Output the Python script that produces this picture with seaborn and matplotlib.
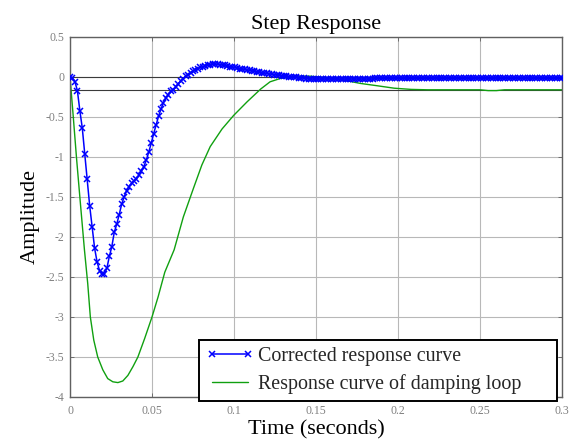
import numpy as np
import pandas as pd
import matplotlib
matplotlib.use("Agg")
import matplotlib.pyplot as plt
import seaborn as sns
from matplotlib.ticker import FixedLocator, FixedFormatter

# ---------------- data ----------------
title = "Step Response"
x_label = "Time (seconds)"
y_label = "Amplitude"
series_names = ["Corrected response curve", "Response curve of damping loop"]

x_ticks = [0, 0.05, 0.1, 0.15, 0.2, 0.25, 0.3]
x_tick_labels = ["0", "0.05", "0.1", "0.15", "0.2", "0.25", "0.3"]
y_ticks = [-4, -3.5, -3, -2.5, -2, -1.5, -1, -0.5, 0, 0.5]
y_tick_labels = ["-4", "-3.5", "-3", "-2.5", "-2", "-1.5", "-1", "-0.5", "0", "0.5"]

# steady-state reference lines
steady_values = [0.0, -0.16]

# corrected response: sampled every 0.0015 s
blue_dt = 0.0015
blue_y = [
    0.00, -0.01, -0.06, -0.17, -0.42, -0.64, -0.96, -1.28, -1.61, -1.87,
    -2.14, -2.31, -2.42, -2.46, -2.46, -2.39, -2.24, -2.12, -1.94, -1.84,
    -1.72, -1.59, -1.50, -1.42, -1.37, -1.33, -1.30, -1.27, -1.23, -1.18,
    -1.12, -1.04, -0.94, -0.83, -0.71, -0.60, -0.49, -0.40, -0.32, -0.26,
    -0.22, -0.18, -0.16, -0.12, -0.085, -0.05, -0.02, 0.01, 0.03, 0.055,
    0.075, 0.09, 0.105, 0.12, 0.13, 0.14, 0.15, 0.155, 0.16, 0.16,
    0.16, 0.155, 0.15, 0.145, 0.14, 0.13, 0.125, 0.12, 0.11, 0.105,
    0.10, 0.095, 0.09, 0.085, 0.075, 0.07, 0.065, 0.06, 0.055, 0.05,
    0.045, 0.04, 0.035, 0.03, 0.025, 0.02, 0.015, 0.01, 0.01, 0.005,
    0.00, 0.00, -0.005, -0.01, -0.01, -0.015, -0.02, -0.02, -0.025, -0.025,
    -0.025, -0.025, -0.025, -0.025, -0.025, -0.025, -0.025, -0.025, -0.025, -0.025,
    -0.025, -0.025, -0.025, -0.025, -0.025, -0.025, -0.025, -0.025, -0.025, -0.025,
    -0.025, -0.025, -0.025, -0.025, -0.015, -0.015, -0.015, -0.015, -0.015, -0.015,
    -0.015, -0.015, -0.015, -0.015, -0.015, -0.015, -0.015, -0.015, -0.015, -0.015,
    -0.015, -0.015, -0.015, -0.015, -0.015, -0.015, -0.015, -0.015, -0.015, -0.015,
    -0.015, -0.015, -0.015, -0.015, -0.015, -0.015, -0.015, -0.015, -0.015, -0.015,
    -0.015, -0.015, -0.015, -0.015, -0.015, -0.015, -0.015, -0.015, -0.015, -0.015,
    -0.015, -0.015, -0.015, -0.015, -0.015, -0.015, -0.015, -0.015, -0.015, -0.015,
    -0.015, -0.015, -0.015, -0.015, -0.015, -0.015, -0.015, -0.015, -0.015, -0.015,
    -0.015, -0.015, -0.015, -0.015, -0.015, -0.015, -0.015, -0.015, -0.015, -0.015,
    -0.015,
]

# damping-loop response
green_t = [0.0, 0.002, 0.004, 0.006, 0.0088, 0.0108, 0.0124, 0.0145, 0.0169, 0.020,
           0.023, 0.0261, 0.0292, 0.0322, 0.0353, 0.0384, 0.0414, 0.0455, 0.050, 0.0537,
           0.0578, 0.0635, 0.0691, 0.0753, 0.0804, 0.0855, 0.0927, 0.0998, 0.108, 0.1163,
           0.122, 0.128, 0.1364, 0.1466, 0.157, 0.167, 0.177, 0.1875, 0.1977, 0.208,
           0.218, 0.25, 0.255, 0.26, 0.265, 0.3]
green_y = [0.0, -0.5, -1.02, -1.5, -2.16, -2.58, -3.0, -3.29, -3.5, -3.66,
           -3.77, -3.81, -3.82, -3.80, -3.73, -3.62, -3.50, -3.27, -3.00, -2.75,
           -2.44, -2.16, -1.75, -1.39, -1.10, -0.87, -0.65, -0.48, -0.31, -0.15,
           -0.06, -0.02, 0.01, 0.01, -0.01, -0.04, -0.08, -0.11, -0.14, -0.155,
           -0.16, -0.16, -0.17, -0.17, -0.16, -0.16]

blue_t = np.arange(len(blue_y)) * blue_dt
df_blue = pd.DataFrame({"t": blue_t, "y": blue_y})
df_green = pd.DataFrame({"t": green_t, "y": green_y})

# ---------------- figure ----------------
sns.set_theme(style="whitegrid")
plt.rcParams["font.family"] = ["Liberation Serif", "DejaVu Serif"]

fig = plt.figure(figsize=(5.71, 4.41), dpi=100)
ax = fig.add_axes([0.1226, 0.0998, 0.8616, 0.8163])
ax.set_facecolor("white")

for v in steady_values:
    ax.axhline(v, color="#3a3a3a", linewidth=0.8, zorder=1.5)

sns.lineplot(data=df_blue, x="t", y="y", ax=ax, color="#0000ff",
             marker="x", markersize=4.2, markeredgecolor="#0000ff",
             markeredgewidth=1.1, linewidth=1.1, label=series_names[0],
             sort=False, zorder=3)
sns.lineplot(data=df_green, x="t", y="y", ax=ax, color="#10a010",
             linewidth=1.0, label=series_names[1], sort=False, zorder=2.5)

ax.set_xlim(0, 0.3)
ax.set_ylim(-4, 0.5)
ax.xaxis.set_major_locator(FixedLocator(x_ticks))
ax.xaxis.set_major_formatter(FixedFormatter(x_tick_labels))
ax.yaxis.set_major_locator(FixedLocator(y_ticks))
ax.yaxis.set_major_formatter(FixedFormatter(y_tick_labels))

ax.grid(True, color="#b8b8b8", linewidth=0.8)
for s in ax.spines.values():
    s.set_visible(True)
    s.set_color("#606060")
    s.set_linewidth(1.0)

ax.tick_params(axis="both", direction="in", length=3, width=0.6,
               color="#606060", labelcolor="#808080", labelsize=8.5,
               top=True, right=True, bottom=True, left=True)
ax.tick_params(axis="x", pad=6)
ax.tick_params(axis="y", pad=4)

ax.set_title(title, fontsize=16, color="black", pad=6)
ax.set_xlabel(x_label, fontsize=16, color="black", labelpad=2)
ax.set_ylabel(y_label, fontsize=16, color="black", labelpad=4)

leg = ax.legend(loc="lower left", bbox_to_anchor=(0.262, -0.011, 0.728, 0.172),
                mode="expand", borderaxespad=0, fontsize=14.4, frameon=True,
                fancybox=False, edgecolor="black", framealpha=1,
                handlelength=2.4, handletextpad=0.2, labelspacing=0.42,
                borderpad=0.35, numpoints=2)
leg.get_frame().set_linewidth(1.4)
leg.set_zorder(5)

fig.savefig("out.png", dpi=100)
